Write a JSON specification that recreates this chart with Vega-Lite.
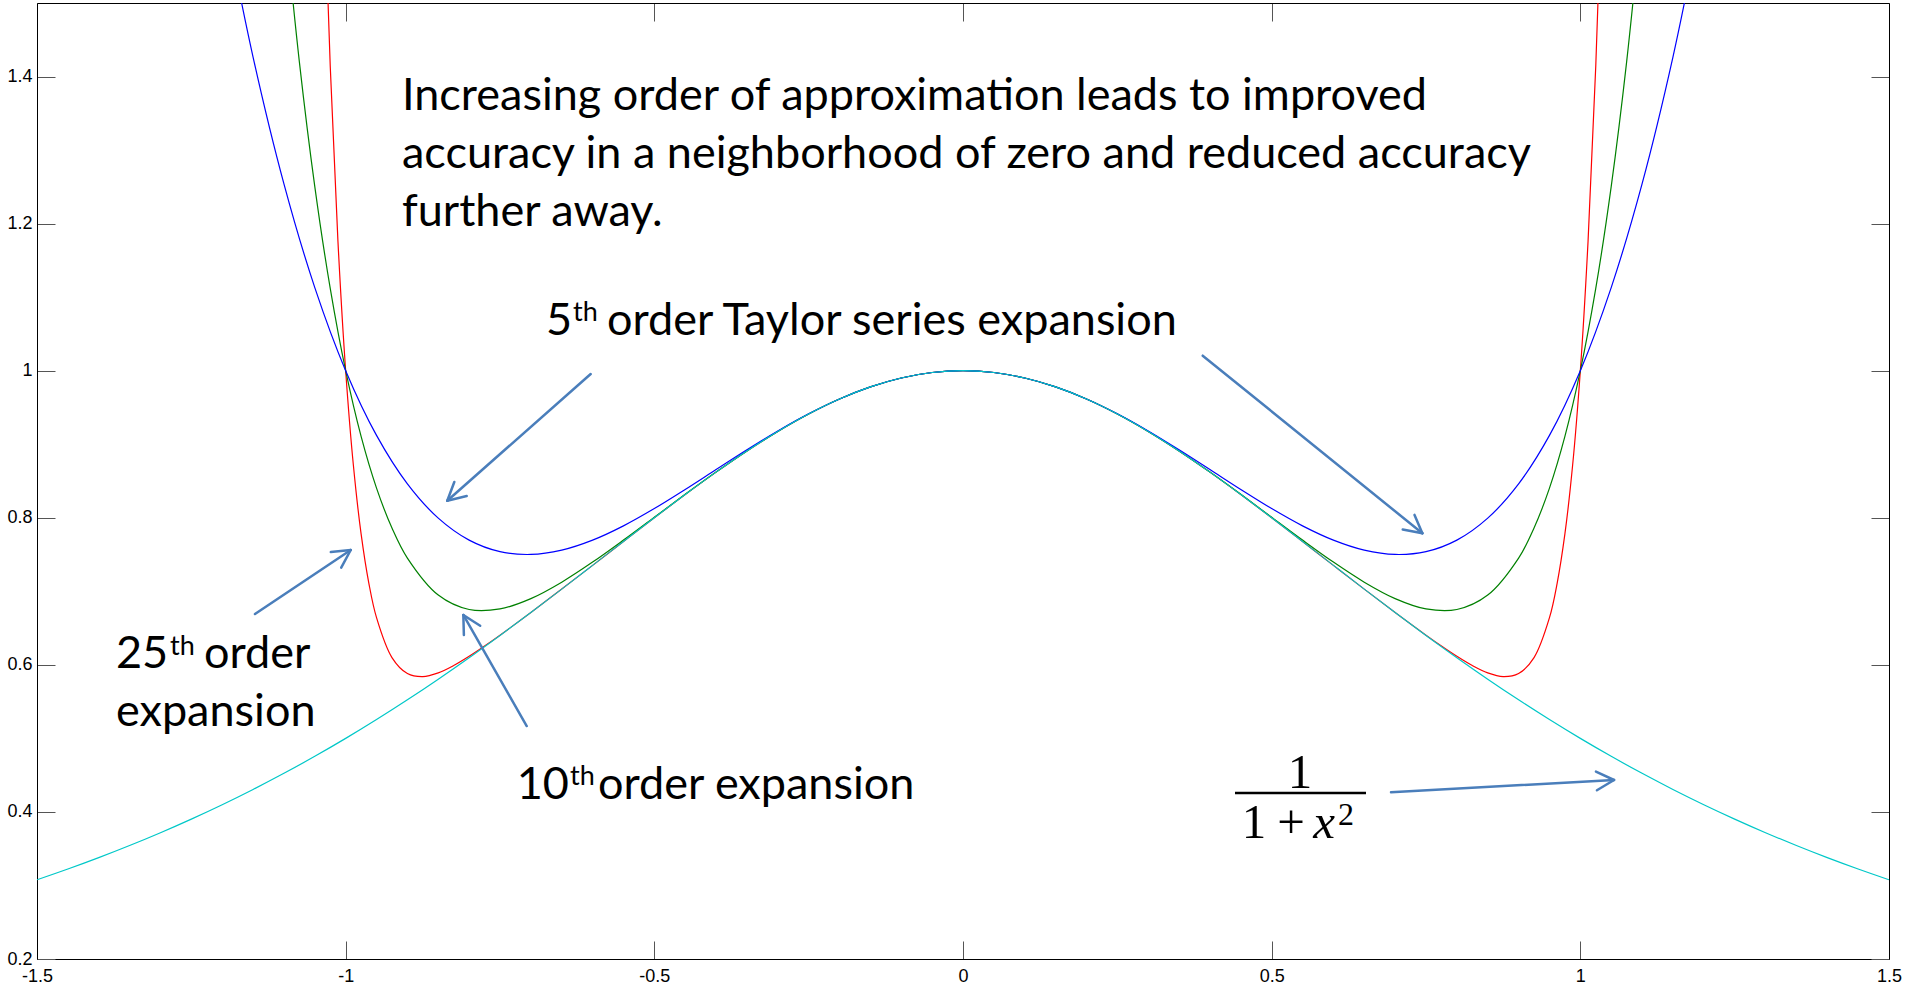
{
  "$schema": "https://vega.github.io/schema/vega-lite/v6.json",
  "width": 1852,
  "height": 956,
  "autosize": {"type": "none"},
  "padding": {"left": 37, "top": 3, "right": 17, "bottom": 30},
  "background": "white",
  "config": {"view": {"stroke": null}},
  "datasets": {
    "curves": [
      {"s":"c","x":-1.5,"y":0.307692},{"s":"c","x":-1.45,"y":0.322321},{"s":"c","x":-1.4,"y":0.337838},{"s":"c","x":-1.35,"y":0.354296},{"s":"c","x":-1.3,"y":0.371747},{"s":"c","x":-1.25,"y":0.390244},{"s":"c","x":-1.2,"y":0.409836},{"s":"c","x":-1.15,"y":0.430571},{"s":"c","x":-1.1,"y":0.452489},{"s":"c","x":-1.05,"y":0.475624},{"s":"c","x":-1,"y":0.5},{"s":"c","x":-0.95,"y":0.525624},{"s":"c","x":-0.9,"y":0.552486},{"s":"c","x":-0.85,"y":0.580552},{"s":"c","x":-0.8,"y":0.609756},{"s":"c","x":-0.75,"y":0.64},{"s":"c","x":-0.7,"y":0.671141},{"s":"c","x":-0.65,"y":0.702988},{"s":"c","x":-0.6,"y":0.735294},{"s":"c","x":-0.55,"y":0.767754},{"s":"c","x":-0.5,"y":0.8},{"s":"c","x":-0.45,"y":0.831601},{"s":"c","x":-0.4,"y":0.862069},{"s":"c","x":-0.35,"y":0.890869},{"s":"c","x":-0.3,"y":0.917431},{"s":"c","x":-0.25,"y":0.941176},{"s":"c","x":-0.2,"y":0.961538},{"s":"c","x":-0.15,"y":0.977995},{"s":"c","x":-0.1,"y":0.990099},{"s":"c","x":-0.05,"y":0.997506},{"s":"c","x":0,"y":1},
      {"s":"c","x":0.05,"y":0.997506},{"s":"c","x":0.1,"y":0.990099},{"s":"c","x":0.15,"y":0.977995},{"s":"c","x":0.2,"y":0.961538},{"s":"c","x":0.25,"y":0.941176},{"s":"c","x":0.3,"y":0.917431},{"s":"c","x":0.35,"y":0.890869},{"s":"c","x":0.4,"y":0.862069},{"s":"c","x":0.45,"y":0.831601},{"s":"c","x":0.5,"y":0.8},{"s":"c","x":0.55,"y":0.767754},{"s":"c","x":0.6,"y":0.735294},{"s":"c","x":0.65,"y":0.702988},{"s":"c","x":0.7,"y":0.671141},{"s":"c","x":0.75,"y":0.64},{"s":"c","x":0.8,"y":0.609756},{"s":"c","x":0.85,"y":0.580552},{"s":"c","x":0.9,"y":0.552486},{"s":"c","x":0.95,"y":0.525624},{"s":"c","x":1,"y":0.5},{"s":"c","x":1.05,"y":0.475624},{"s":"c","x":1.1,"y":0.452489},{"s":"c","x":1.15,"y":0.430571},{"s":"c","x":1.2,"y":0.409836},{"s":"c","x":1.25,"y":0.390244},{"s":"c","x":1.3,"y":0.371747},{"s":"c","x":1.35,"y":0.354296},{"s":"c","x":1.4,"y":0.337838},{"s":"c","x":1.45,"y":0.322321},{"s":"c","x":1.5,"y":0.307692},

      {"s":"b","x":-1.2,"y":1.6336},{"s":"b","x":-1.15,"y":1.426506},{"s":"b","x":-1.1,"y":1.2541},{"s":"b","x":-1.05,"y":1.113006},{"s":"b","x":-1,"y":1},{"s":"b","x":-0.95,"y":0.912006},{"s":"b","x":-0.9,"y":0.8461},{"s":"b","x":-0.85,"y":0.799506},{"s":"b","x":-0.8,"y":0.7696},{"s":"b","x":-0.75,"y":0.753906},{"s":"b","x":-0.7,"y":0.7501},{"s":"b","x":-0.65,"y":0.756006},{"s":"b","x":-0.6,"y":0.7696},{"s":"b","x":-0.55,"y":0.789006},{"s":"b","x":-0.5,"y":0.8125},{"s":"b","x":-0.45,"y":0.838506},{"s":"b","x":-0.4,"y":0.8656},{"s":"b","x":-0.35,"y":0.892506},{"s":"b","x":-0.3,"y":0.9181},{"s":"b","x":-0.25,"y":0.941406},{"s":"b","x":-0.2,"y":0.9616},{"s":"b","x":-0.15,"y":0.978006},{"s":"b","x":-0.1,"y":0.9901},{"s":"b","x":-0.05,"y":0.997506},{"s":"b","x":0,"y":1},
      {"s":"b","x":0.05,"y":0.997506},{"s":"b","x":0.1,"y":0.9901},{"s":"b","x":0.15,"y":0.978006},{"s":"b","x":0.2,"y":0.9616},{"s":"b","x":0.25,"y":0.941406},{"s":"b","x":0.3,"y":0.9181},{"s":"b","x":0.35,"y":0.892506},{"s":"b","x":0.4,"y":0.8656},{"s":"b","x":0.45,"y":0.838506},{"s":"b","x":0.5,"y":0.8125},{"s":"b","x":0.55,"y":0.789006},{"s":"b","x":0.6,"y":0.7696},{"s":"b","x":0.65,"y":0.756006},{"s":"b","x":0.7,"y":0.7501},{"s":"b","x":0.75,"y":0.753906},{"s":"b","x":0.8,"y":0.7696},{"s":"b","x":0.85,"y":0.799506},{"s":"b","x":0.9,"y":0.8461},{"s":"b","x":0.95,"y":0.912006},{"s":"b","x":1,"y":1},{"s":"b","x":1.05,"y":1.113006},{"s":"b","x":1.1,"y":1.2541},{"s":"b","x":1.15,"y":1.426506},{"s":"b","x":1.2,"y":1.6336},

      {"s":"g","x":-1.1,"y":1.626128},{"s":"g","x":-1.075,"y":1.420029},{"s":"g","x":-1.05,"y":1.250366},{"s":"g","x":-1.025,"y":1.111898},{"s":"g","x":-1,"y":1},{"s":"g","x":-0.975,"y":0.910646},{"s":"g","x":-0.95,"y":0.840335},{"s":"g","x":-0.925,"y":0.786033},{"s":"g","x":-0.9,"y":0.745126},{"s":"g","x":-0.85,"y":0.694847},{"s":"g","x":-0.8,"y":0.675228},{"s":"g","x":-0.75,"y":0.676041},{"s":"g","x":-0.7,"y":0.690099},{"s":"g","x":-0.65,"y":0.712452},{"s":"g","x":-0.6,"y":0.73974},{"s":"g","x":-0.55,"y":0.769699},{"s":"g","x":-0.5,"y":0.800781},{"s":"g","x":-0.45,"y":0.831884},{"s":"g","x":-0.4,"y":0.862159},{"s":"g","x":-0.35,"y":0.890893},{"s":"g","x":-0.3,"y":0.917437},{"s":"g","x":-0.25,"y":0.941177},{"s":"g","x":-0.2,"y":0.961539},{"s":"g","x":-0.15,"y":0.977995},{"s":"g","x":-0.1,"y":0.990099},{"s":"g","x":-0.05,"y":0.997506},{"s":"g","x":0,"y":1},
      {"s":"g","x":0.05,"y":0.997506},{"s":"g","x":0.1,"y":0.990099},{"s":"g","x":0.15,"y":0.977995},{"s":"g","x":0.2,"y":0.961539},{"s":"g","x":0.25,"y":0.941177},{"s":"g","x":0.3,"y":0.917437},{"s":"g","x":0.35,"y":0.890893},{"s":"g","x":0.4,"y":0.862159},{"s":"g","x":0.45,"y":0.831884},{"s":"g","x":0.5,"y":0.800781},{"s":"g","x":0.55,"y":0.769699},{"s":"g","x":0.6,"y":0.73974},{"s":"g","x":0.65,"y":0.712452},{"s":"g","x":0.7,"y":0.690099},{"s":"g","x":0.75,"y":0.676041},{"s":"g","x":0.8,"y":0.675228},{"s":"g","x":0.85,"y":0.694847},{"s":"g","x":0.9,"y":0.745126},{"s":"g","x":0.925,"y":0.786033},{"s":"g","x":0.95,"y":0.840335},{"s":"g","x":0.975,"y":0.910646},{"s":"g","x":1,"y":1},{"s":"g","x":1.025,"y":1.111898},{"s":"g","x":1.05,"y":1.250366},{"s":"g","x":1.075,"y":1.420029},{"s":"g","x":1.1,"y":1.626128},

      {"s":"r","x":-1.0375,"y":1.735839},{"s":"r","x":-1.025,"y":1.414346},{"s":"r","x":-1.0125,"y":1.175832},{"s":"r","x":-1,"y":1},{"s":"r","x":-0.9875,"y":0.871348},{"s":"r","x":-0.975,"y":0.778084},{"s":"r","x":-0.9625,"y":0.711266},{"s":"r","x":-0.95,"y":0.664137},{"s":"r","x":-0.925,"y":0.60989},{"s":"r","x":-0.9,"y":0.588183},{"s":"r","x":-0.875,"y":0.583963},{"s":"r","x":-0.85,"y":0.589039},{"s":"r","x":-0.825,"y":0.59902},{"s":"r","x":-0.8,"y":0.611599},{"s":"r","x":-0.775,"y":0.625583},{"s":"r","x":-0.75,"y":0.640361},{"s":"r","x":-0.7,"y":0.671204},{"s":"r","x":-0.65,"y":0.702998},{"s":"r","x":-0.6,"y":0.735295},{"s":"r","x":-0.55,"y":0.767754},{"s":"r","x":-0.5,"y":0.8},{"s":"r","x":-0.45,"y":0.831601},{"s":"r","x":-0.4,"y":0.862069},{"s":"r","x":-0.35,"y":0.890869},{"s":"r","x":-0.3,"y":0.917431},{"s":"r","x":-0.25,"y":0.941176},{"s":"r","x":-0.2,"y":0.961538},{"s":"r","x":-0.15,"y":0.977995},{"s":"r","x":-0.1,"y":0.990099},{"s":"r","x":-0.05,"y":0.997506},{"s":"r","x":0,"y":1},
      {"s":"r","x":0.05,"y":0.997506},{"s":"r","x":0.1,"y":0.990099},{"s":"r","x":0.15,"y":0.977995},{"s":"r","x":0.2,"y":0.961538},{"s":"r","x":0.25,"y":0.941176},{"s":"r","x":0.3,"y":0.917431},{"s":"r","x":0.35,"y":0.890869},{"s":"r","x":0.4,"y":0.862069},{"s":"r","x":0.45,"y":0.831601},{"s":"r","x":0.5,"y":0.8},{"s":"r","x":0.55,"y":0.767754},{"s":"r","x":0.6,"y":0.735295},{"s":"r","x":0.65,"y":0.702998},{"s":"r","x":0.7,"y":0.671204},{"s":"r","x":0.75,"y":0.640361},{"s":"r","x":0.775,"y":0.625583},{"s":"r","x":0.8,"y":0.611599},{"s":"r","x":0.825,"y":0.59902},{"s":"r","x":0.85,"y":0.589039},{"s":"r","x":0.875,"y":0.583963},{"s":"r","x":0.9,"y":0.588183},{"s":"r","x":0.925,"y":0.60989},{"s":"r","x":0.95,"y":0.664137},{"s":"r","x":0.9625,"y":0.711266},{"s":"r","x":0.975,"y":0.778084},{"s":"r","x":0.9875,"y":0.871348},{"s":"r","x":1,"y":1},{"s":"r","x":1.0125,"y":1.175832},{"s":"r","x":1.025,"y":1.414346},{"s":"r","x":1.0375,"y":1.735839}
    ],
    "arrows": [
      {"x":-0.6031,"y":0.9955,"x2":-0.8354,"y2":0.8232},
      {"x":-0.8354,"y":0.8232,"x2":-0.8039,"y2":0.8296},
      {"x":-0.8354,"y":0.8232,"x2":-0.824,"y2":0.8486},
      {"x":0.3883,"y":1.0204,"x2":0.7441,"y2":0.7789},
      {"x":0.7441,"y":0.7789,"x2":0.7314,"y2":0.8039},
      {"x":0.7441,"y":0.7789,"x2":0.7123,"y2":0.784},
      {"x":-1.1469,"y":0.6691,"x2":-0.9918,"y2":0.7562},
      {"x":-0.9918,"y":0.7562,"x2":-1.0241,"y2":0.7534},
      {"x":-0.9918,"y":0.7562,"x2":-1.0072,"y2":0.7322},
      {"x":-0.7067,"y":0.5168,"x2":-0.8094,"y2":0.6678},
      {"x":-0.8094,"y":0.6678,"x2":-0.8085,"y2":0.6406},
      {"x":-0.8094,"y":0.6678,"x2":-0.7821,"y2":0.6532},
      {"x":0.6933,"y":0.4267,"x2":1.0546,"y2":0.4434},
      {"x":1.0546,"y":0.4434,"x2":1.0253,"y2":0.4548},
      {"x":1.0546,"y":0.4434,"x2":1.0269,"y2":0.4294}
    ],
    "bar": [
      {"x":0.4406,"y":0.4257,"x2":0.6528,"y2":0.4257}
    ],
    "labels": [
      {"k":"sans","x":-0.9088,"y":1.3545,"t":"Increasing order of approximation leads to improved"},
      {"k":"sans","x":-0.9088,"y":1.2756,"t":"accuracy in a neighborhood of zero and reduced accuracy"},
      {"k":"sans","x":-0.9088,"y":1.1968,"t":"further away."},
      {"k":"sans","x":-0.6755,"y":1.0485,"t":"5"},
      {"k":"sans","x":-0.5767,"y":1.0485,"t":"order Taylor series expansion"},
      {"k":"sans","x":-1.372,"y":0.5957,"t":"25"},
      {"k":"sans","x":-1.2295,"y":0.5957,"t":"order"},
      {"k":"sans","x":-1.372,"y":0.5168,"t":"expansion"},
      {"k":"sans","x":-0.723,"y":0.4176,"t":"10"},
      {"k":"sans","x":-0.5913,"y":0.4176,"t":"order expansion"},
      {"k":"sup","x":-0.6317,"y":1.0676,"t":"th"},
      {"k":"sup","x":-1.2846,"y":0.6134,"t":"th"},
      {"k":"sup","x":-0.6366,"y":0.4366,"t":"th"},
      {"k":"serif","x":0.5459,"y":0.4325,"t":"1"},
      {"k":"serif","x":0.4714,"y":0.3645,"t":"1"},
      {"k":"serif","x":0.5313,"y":0.3645,"t":"+"},
      {"k":"serifit","x":0.5848,"y":0.3645,"t":"x"},
      {"k":"serifsup","x":0.6204,"y":0.3822,"t":"2"}
    ]
  },
  "resolve": {"axis": {"x": "independent", "y": "independent"}},
  "layer": [
    {
      "data": {"name": "curves"},
      "transform": [{"filter": "datum.s === 'r'"}],
      "mark": {"type": "line", "color": "#ff0000", "strokeWidth": 1.2, "clip": true, "interpolate": "catmull-rom"},
      "encoding": {
        "x": {"field": "x", "type": "quantitative", "scale": {"domain": [-1.5, 1.5], "nice": false, "zero": false},
          "axis": {"orient": "bottom", "values": [-1.5, -1, -0.5, 0, 0.5, 1, 1.5], "labelExpr": "'' + datum.value", "title": null, "grid": false,
            "tickSize": -18, "tickColor": "#555555", "tickWidth": 1, "domainColor": "#000000", "domainWidth": 1,
            "labelFont": "Liberation Sans", "labelFontSize": 18, "labelColor": "#000000", "labelPadding": 26, "labelFlush": false, "labelOverlap": false, "labelBound": false}},
        "y": {"field": "y", "type": "quantitative", "scale": {"domain": [0.2, 1.5], "nice": false, "zero": false},
          "axis": {"orient": "left", "values": [0.2, 0.4, 0.6, 0.8, 1, 1.2, 1.4], "labelExpr": "'' + datum.value", "title": null, "grid": false,
            "tickSize": -18, "tickColor": "#555555", "tickWidth": 1, "domainColor": "#000000", "domainWidth": 1,
            "labelFont": "Liberation Sans", "labelFontSize": 18, "labelColor": "#000000", "labelPadding": 23, "labelFlush": false, "labelOverlap": false, "labelBound": false}}
      }
    },
    {
      "data": {"name": "curves"},
      "transform": [{"filter": "datum.s === 'g'"}],
      "mark": {"type": "line", "color": "#008000", "strokeWidth": 1.2, "clip": true, "interpolate": "catmull-rom"},
      "encoding": {
        "x": {"field": "x", "type": "quantitative", "scale": {"domain": [-1.5, 1.5], "nice": false, "zero": false},
          "axis": {"orient": "top", "values": [-1.5, -1, -0.5, 0, 0.5, 1, 1.5], "labels": false, "title": null, "grid": false,
            "tickSize": -18, "tickColor": "#555555", "tickWidth": 1, "domainColor": "#000000", "domainWidth": 1}},
        "y": {"field": "y", "type": "quantitative", "scale": {"domain": [0.2, 1.5], "nice": false, "zero": false},
          "axis": {"orient": "right", "values": [0.2, 0.4, 0.6, 0.8, 1, 1.2, 1.4], "labels": false, "title": null, "grid": false,
            "tickSize": -18, "tickColor": "#555555", "tickWidth": 1, "domainColor": "#000000", "domainWidth": 1}}
      }
    },
    {
      "data": {"name": "curves"},
      "transform": [{"filter": "datum.s === 'b'"}],
      "mark": {"type": "line", "color": "#0000ff", "strokeWidth": 1.2, "clip": true, "interpolate": "catmull-rom"},
      "encoding": {
        "x": {"field": "x", "type": "quantitative", "scale": {"domain": [-1.5, 1.5], "nice": false, "zero": false}, "axis": null},
        "y": {"field": "y", "type": "quantitative", "scale": {"domain": [0.2, 1.5], "nice": false, "zero": false}, "axis": null}
      }
    },
    {
      "data": {"name": "curves"},
      "transform": [{"filter": "datum.s === 'c'"}],
      "mark": {"type": "line", "color": "#00c8c8", "strokeWidth": 1.2, "clip": true, "interpolate": "catmull-rom"},
      "encoding": {
        "x": {"field": "x", "type": "quantitative", "scale": {"domain": [-1.5, 1.5], "nice": false, "zero": false}, "axis": null},
        "y": {"field": "y", "type": "quantitative", "scale": {"domain": [0.2, 1.5], "nice": false, "zero": false}, "axis": null}
      }
    },
    {
      "data": {"name": "arrows"},
      "mark": {"type": "rule", "color": "#4a7ebb", "strokeWidth": 2.5, "strokeCap": "round"},
      "encoding": {
        "x": {"field": "x", "type": "quantitative", "scale": {"domain": [-1.5, 1.5], "nice": false, "zero": false}, "axis": null},
        "y": {"field": "y", "type": "quantitative", "scale": {"domain": [0.2, 1.5], "nice": false, "zero": false}, "axis": null},
        "x2": {"field": "x2"},
        "y2": {"field": "y2"}
      }
    },
    {
      "data": {"name": "bar"},
      "mark": {"type": "rule", "color": "#000000", "strokeWidth": 2.5},
      "encoding": {
        "x": {"field": "x", "type": "quantitative", "scale": {"domain": [-1.5, 1.5], "nice": false, "zero": false}, "axis": null},
        "y": {"field": "y", "type": "quantitative", "scale": {"domain": [0.2, 1.5], "nice": false, "zero": false}, "axis": null},
        "x2": {"field": "x2"},
        "y2": {"field": "y2"}
      }
    },
    {
      "data": {"name": "labels"},
      "transform": [{"filter": "datum.k === 'sans'"}],
      "mark": {"type": "text", "font": "Lato", "fontSize": 45, "align": "left", "baseline": "alphabetic", "color": "#000000"},
      "encoding": {
        "x": {"field": "x", "type": "quantitative", "scale": {"domain": [-1.5, 1.5], "nice": false, "zero": false}, "axis": null},
        "y": {"field": "y", "type": "quantitative", "scale": {"domain": [0.2, 1.5], "nice": false, "zero": false}, "axis": null},
        "text": {"field": "t"}
      }
    },
    {
      "data": {"name": "labels"},
      "transform": [{"filter": "datum.k === 'sup'"}],
      "mark": {"type": "text", "font": "Lato", "fontSize": 27, "align": "left", "baseline": "alphabetic", "color": "#000000"},
      "encoding": {
        "x": {"field": "x", "type": "quantitative", "scale": {"domain": [-1.5, 1.5], "nice": false, "zero": false}, "axis": null},
        "y": {"field": "y", "type": "quantitative", "scale": {"domain": [0.2, 1.5], "nice": false, "zero": false}, "axis": null},
        "text": {"field": "t"}
      }
    },
    {
      "data": {"name": "labels"},
      "transform": [{"filter": "datum.k === 'serif'"}],
      "mark": {"type": "text", "font": "Liberation Serif", "fontSize": 49, "align": "center", "baseline": "alphabetic", "color": "#000000"},
      "encoding": {
        "x": {"field": "x", "type": "quantitative", "scale": {"domain": [-1.5, 1.5], "nice": false, "zero": false}, "axis": null},
        "y": {"field": "y", "type": "quantitative", "scale": {"domain": [0.2, 1.5], "nice": false, "zero": false}, "axis": null},
        "text": {"field": "t"}
      }
    },
    {
      "data": {"name": "labels"},
      "transform": [{"filter": "datum.k === 'serifit'"}],
      "mark": {"type": "text", "font": "Liberation Serif", "fontStyle": "italic", "fontSize": 49, "align": "center", "baseline": "alphabetic", "color": "#000000"},
      "encoding": {
        "x": {"field": "x", "type": "quantitative", "scale": {"domain": [-1.5, 1.5], "nice": false, "zero": false}, "axis": null},
        "y": {"field": "y", "type": "quantitative", "scale": {"domain": [0.2, 1.5], "nice": false, "zero": false}, "axis": null},
        "text": {"field": "t"}
      }
    },
    {
      "data": {"name": "labels"},
      "transform": [{"filter": "datum.k === 'serifsup'"}],
      "mark": {"type": "text", "font": "Liberation Serif", "fontSize": 32, "align": "center", "baseline": "alphabetic", "color": "#000000"},
      "encoding": {
        "x": {"field": "x", "type": "quantitative", "scale": {"domain": [-1.5, 1.5], "nice": false, "zero": false}, "axis": null},
        "y": {"field": "y", "type": "quantitative", "scale": {"domain": [0.2, 1.5], "nice": false, "zero": false}, "axis": null},
        "text": {"field": "t"}
      }
    }
  ]
}
